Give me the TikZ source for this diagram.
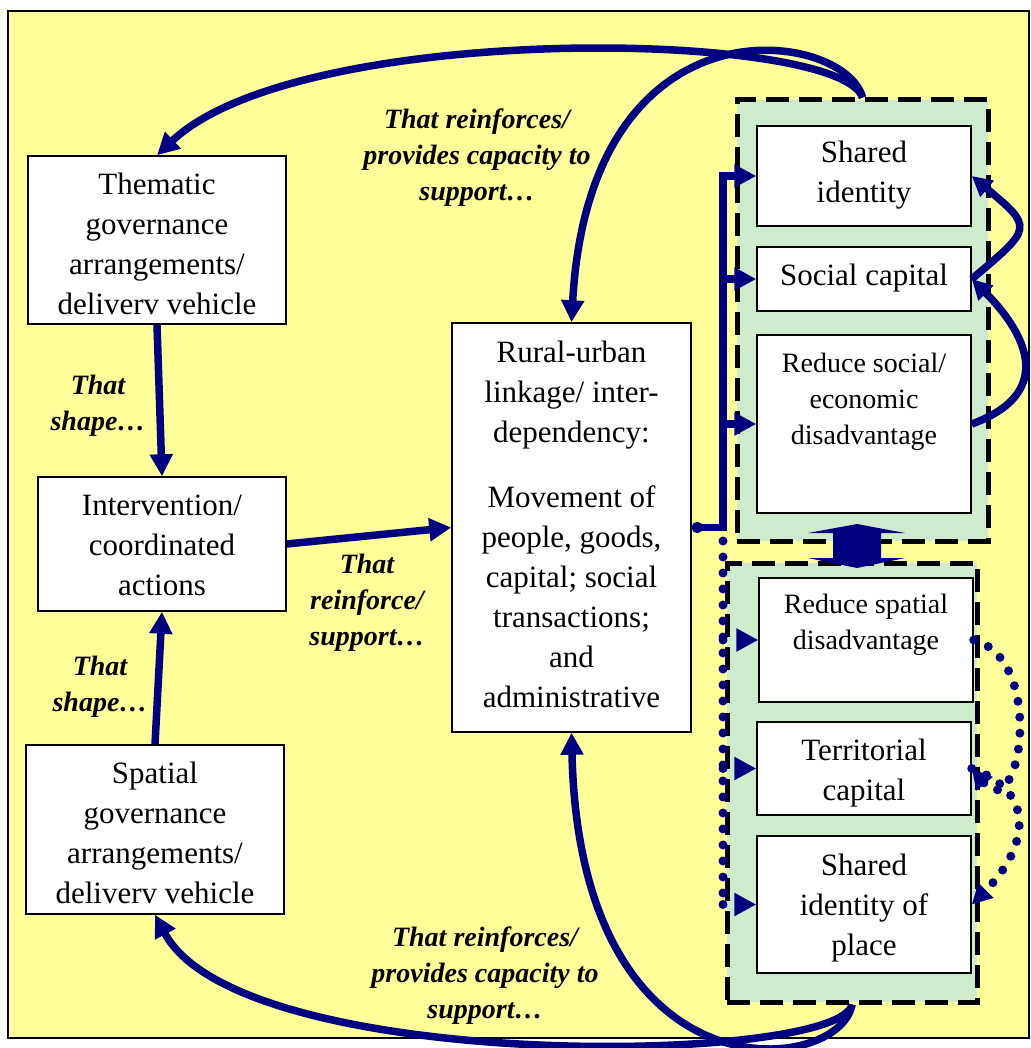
\documentclass[tikz,border=0pt]{standalone}
\usepackage{fontspec}
\setmainfont{Liberation Serif}
\usetikzlibrary{arrows.meta}
\definecolor{navy}{RGB}{0,0,128}
\definecolor{bgyellow}{RGB}{255,255,153}
\definecolor{grpfill}{RGB}{208,234,205}
% box text: width, height, first baseline, lines
\newcommand{\boxtxt}[4]{\parbox[c][#2][t]{#1}{\centering\rule{0pt}{#3}#4}}

\begin{document}
\begin{tikzpicture}[x=1pt, y=-1pt,
    box/.style={draw, fill=white, line width=1.5pt, inner sep=0pt, font=\fontsize{31}{40}\selectfont},
    smallbox/.style={box, font=\fontsize{28}{36}\selectfont},
    grp/.style={draw, fill=grpfill, line width=5pt, dash pattern=on 23pt off 10pt, inner sep=0pt},
    flow/.style={navy, line width=7.5pt, -{Triangle[length=22pt,width=22pt]}},
    dotline/.style={navy, line width=9pt, line cap=round, dash pattern=on 0pt off 16pt},
    lbl/.style={align=center, font=\fontsize{28}{36}\selectfont\bfseries\itshape}]
    \useasboundingbox (0,0) rectangle (1030,1048);
    % Background
    \draw[line width=1.5pt, fill=bgyellow] (8,11) rectangle (1029,1038);

    % Groups on the right
    \node[grp, minimum width=251pt, minimum height=441pt] (topgrp) at (862.5,320.5) {};
    \node[grp, minimum width=250pt, minimum height=439pt] (botgrp) at (852,782.5) {};
    \fill[navy, shift={(857,546)}] (0,-22) -- (48,-13) -- (24,-13) -- (24,12) -- (48,12) -- (0,22)
        -- (-49,12) -- (-24,12) -- (-24,-13) -- (-49,-13) -- cycle;

    % Left column
    \node[box] (them) at (157,240) {\boxtxt{258pt}{168pt}{39pt}{Thematic\\ governance\\ arrangements/\\ deliverv vehicle}};
    \node[box] (interv) at (162,544) {\boxtxt{248pt}{134pt}{38pt}{Intervention/\\ coordinated\\ actions}};
    \node[box] (spat) at (155,829.5) {\boxtxt{258pt}{169pt}{38pt}{Spatial\\ governance\\ arrangements/\\ deliverv vehicle}};

    % Centre
    \node[box] (rural) at (571.5,527.5) {\boxtxt{239pt}{409pt}{39pt}{Rural-urban\\ linkage/ inter-\\ dependency:\\[25pt] Movement of\\ people, goods,\\ capital; social\\ transactions;\\ and\\ administrative}};

    % Right column
    \node[box] (shid) at (864,176) {\boxtxt{214pt}{100pt}{37pt}{Shared\\ identity}};
    \node[box] (socap) at (864,279) {\boxtxt{214pt}{64pt}{38pt}{Social capital}};
    \node[smallbox] (redsoc) at (864,424) {\boxtxt{214pt}{178pt}{37pt}{Reduce social/\\ economic\\ disadvantage}};
    \node[smallbox] (redsp) at (866,640) {\boxtxt{214pt}{124pt}{35pt}{Reduce spatial\\ disadvantage}};
    \node[box] (terr) at (864,768.5) {\boxtxt{214pt}{93pt}{38pt}{Territorial\\ capital}};
    \node[box] (place) at (864,904.5) {\boxtxt{214pt}{137pt}{39pt}{Shared\\ identity of\\ place}};

    % Shaping arrows
    \draw[flow] (them.south) -- (interv.north);
    \draw[flow] (spat.north) -- (interv.south);
    \draw[flow] (interv.east) -- (rural.west);

    % Feedback loops round the outside
    \draw[flow] (topgrp.north) .. controls (840,30) and (300,20) .. (them.north);
    \draw[flow] (topgrp.north) .. controls (845,30) and (590,-10) .. (rural.north);
    \draw[flow] (botgrp.south) .. controls (840,1065) and (240,1075) .. (spat.south);
    \draw[flow] (botgrp.south) .. controls (840,1075) and (580,1105) .. (rural.south);

    % Links out of the centre box
    \coordinate (hub) at (723,527.5);
    \coordinate (dhub) at (723,541);
    \draw[flow, {Circle[length=11pt]}-{Triangle[length=22pt,width=22pt]}] (rural.east) -- (hub) |- (shid.west);
    \foreach \n in {socap, redsoc} {
        \draw[flow] (hub |- \n.west) -- (\n.west);
    }
    \draw[dotline] (dhub) -- (dhub |- place.west);
    \foreach \n in {redsp, terr, place} {
        \draw[dotline, -{Triangle[length=22pt,width=22pt]}] (dhub |- \n.west) -- (\n.west);
    }

    % Loops on the right
    \draw[flow, -{Triangle[length=20pt,width=20pt]}] (socap.east) to[out=40, in=-40, looseness=2] (shid.east);
    \draw[flow, -{Triangle[length=20pt,width=20pt]}] (redsoc.east) to[out=20, in=-45, looseness=1.5] (socap.east);
    \draw[dotline, -{Triangle[length=20pt,width=20pt]}] (redsp.east) to[out=-15, in=-50, looseness=1.5] (terr.east);
    \draw[dotline, -{Triangle[length=20pt,width=20pt]}] (terr.east) to[out=-20, in=45, looseness=1.4] (place.east);

    % Labels
    \node[lbl] (toplbl) at (477,158) {That reinforces/\\ provides capacity to\\ support…};
    \node[lbl] (botlbl) at (485,976) {That reinforces/\\ provides capacity to\\ support…};
    \node[lbl] (shapeup) at (98,406) {That\\ shape…};
    \node[lbl] (shapelo) at (100,687) {That\\ shape…};
    \node[lbl] (reinlbl) at (367,603) {That\\ reinforce/\\ support…};
\end{tikzpicture}
\end{document}
